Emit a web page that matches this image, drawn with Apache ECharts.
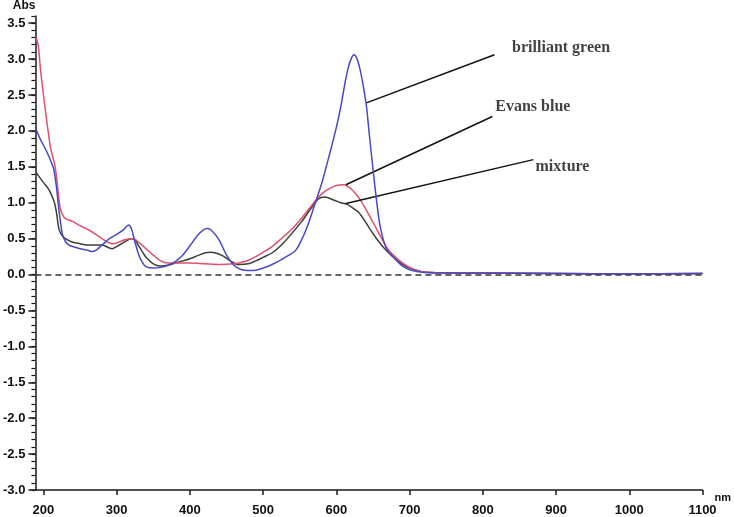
<!DOCTYPE html>
<html>
<head>
<meta charset="utf-8">
<script src="https://cdn.jsdelivr.net/npm/echarts@6/dist/echarts.min.js"></script>
<style>
html,body{margin:0;padding:0;background:#fff;}
#chart{width:734px;height:517px;}
</style>
</head>
<body>
<div id="chart"></div>
<script>
// ---- data ----
const xTicks = [200, 300, 400, 500, 600, 700, 800, 900, 1000, 1100];
const yTicks = [-3.0, -2.5, -2.0, -1.5, -1.0, -0.5, 0.0, 0.5, 1.0, 1.5, 2.0, 2.5, 3.0, 3.5];

const brilliantGreen = [
  [190, 2.02], [195, 1.90], [200, 1.80], [205, 1.70], [210, 1.58], [214, 1.47], [218, 1.20],
  [220, 1.00], [223, 0.75], [226, 0.56], [230, 0.46], [235, 0.41], [240, 0.39], [250, 0.36],
  [260, 0.34], [266, 0.32], [272, 0.34], [280, 0.41], [290, 0.50], [300, 0.56], [310, 0.63],
  [316, 0.69], [320, 0.64], [325, 0.45], [330, 0.28], [335, 0.17], [340, 0.11], [350, 0.09],
  [360, 0.10], [370, 0.13], [380, 0.18], [390, 0.27], [400, 0.40], [410, 0.54], [418, 0.62],
  [424, 0.64], [430, 0.61], [440, 0.48], [450, 0.27], [460, 0.13], [470, 0.07], [480, 0.055],
  [490, 0.06], [500, 0.09], [510, 0.13], [520, 0.18], [530, 0.24], [543, 0.32], [550, 0.43],
  [560, 0.66], [570, 0.96], [580, 1.27], [589, 1.61], [600, 2.05], [607, 2.39], [612, 2.68],
  [616, 2.87], [620, 3.00], [624, 3.06], [628, 3.01], [632, 2.87], [636, 2.67], [641, 2.35],
  [645, 1.95], [650, 1.47], [655, 1.02], [660, 0.66], [668, 0.37], [679, 0.23], [690, 0.12],
  [702, 0.06], [720, 0.03], [750, 0.02], [800, 0.02], [900, 0.015], [1000, 0.01], [1100, 0.015]
];

const evansBlue = [
  [190, 3.30], [193, 3.18], [196, 2.85], [200, 2.50], [205, 2.10], [210, 1.75], [215, 1.55],
  [218, 1.35], [220, 1.15], [223, 0.92], [226, 0.83], [230, 0.78], [240, 0.74], [250, 0.68],
  [262, 0.62], [270, 0.57], [280, 0.50], [290, 0.44], [295, 0.43], [300, 0.44], [310, 0.48],
  [320, 0.50], [325, 0.49], [330, 0.45], [340, 0.36], [350, 0.27], [360, 0.19], [370, 0.16],
  [380, 0.16], [400, 0.16], [420, 0.15], [440, 0.14], [460, 0.15], [471, 0.17], [480, 0.20],
  [490, 0.25], [500, 0.31], [512, 0.39], [525, 0.50], [540, 0.64], [552, 0.78], [563, 0.92],
  [573, 1.05], [581, 1.13], [589, 1.19], [600, 1.24], [610, 1.25], [618, 1.21], [626, 1.13],
  [634, 1.02], [643, 0.86], [652, 0.69], [661, 0.52], [670, 0.36], [679, 0.26], [688, 0.18],
  [700, 0.10], [711, 0.055], [720, 0.035], [750, 0.02], [800, 0.02], [900, 0.015], [1000, 0.01], [1100, 0.015]
];

const mixture = [
  [190, 1.42], [195, 1.35], [200, 1.28], [205, 1.22], [210, 1.13], [215, 1.00], [218, 0.85],
  [221, 0.64], [225, 0.55], [230, 0.50], [240, 0.45], [250, 0.43], [262, 0.41], [270, 0.41],
  [280, 0.41], [290, 0.37], [294, 0.36], [300, 0.39], [310, 0.45], [320, 0.50], [325, 0.48],
  [330, 0.40], [335, 0.32], [340, 0.24], [350, 0.15], [360, 0.12], [370, 0.13], [380, 0.16],
  [390, 0.19], [400, 0.22], [410, 0.26], [420, 0.30], [428, 0.31], [435, 0.30], [445, 0.26],
  [455, 0.19], [466, 0.14], [480, 0.15], [490, 0.19], [500, 0.24], [512, 0.30], [525, 0.41],
  [552, 0.73], [566, 0.93], [575, 1.05], [584, 1.08], [598, 1.03], [606, 1.00], [614, 0.98],
  [622, 0.93], [630, 0.87], [640, 0.73], [648, 0.60], [657, 0.47], [666, 0.36], [677, 0.25],
  [688, 0.16], [700, 0.09], [711, 0.055], [720, 0.035], [750, 0.02], [800, 0.02], [900, 0.015], [1000, 0.01], [1100, 0.015]
];

// annotation callouts: label text, line start (on curve), line end, text anchor (data units)
const annoNames = ['brilliant green', 'Evans blue', 'mixture'];
const annoFrom = [[641, 2.39], [613, 1.25], [613, 0.99]];
const annoTo = [[816, 3.06], [813, 2.20], [869, 1.60]];
const annoText = [[840, 3.15], [817, 2.34], [872, 1.50]];

// ---- chart ----
const chart = echarts.init(document.getElementById('chart'), null, {renderer: 'canvas'});
const axisColor = '#1a1a1a';
const tickFont = {fontFamily: 'Liberation Sans, Arial, sans-serif', fontWeight: 'bold', fontSize: 13, color: '#111'};

const option = {
  animation: false,
  backgroundColor: '#fff',
  grid: {left: 33, right: 31, top: 16, bottom: 24, containLabel: false},
  xAxis: {
    type: 'value', min: 189, max: 1100,
    name: 'nm', nameLocation: 'end', nameGap: 12,
    nameTextStyle: {fontFamily: 'Liberation Sans, Arial, sans-serif', fontWeight: 'bold', fontSize: 11, color: '#111', verticalAlign: 'top', padding: [2, 0, 0, 0]},
    axisLine: {show: true, onZero: false, lineStyle: {color: axisColor, width: 1.5}},
    axisTick: {show: true, inside: false, length: 5, customValues: xTicks, lineStyle: {color: axisColor, width: 1.5}},
    axisLabel: Object.assign({show: true, margin: 14, customValues: xTicks, formatter: v => String(v)}, tickFont),
    splitLine: {show: false}
  },
  yAxis: [{
    type: 'value', min: -3, max: 3.6,
    name: 'Abs', nameLocation: 'end', nameGap: 4,
    nameTextStyle: {fontFamily: 'Liberation Sans, Arial, sans-serif', fontWeight: 'bold', fontSize: 12, color: '#111', align: 'right', verticalAlign: 'bottom'},
    axisLine: {show: true, onZero: false, lineStyle: {color: axisColor, width: 1.5}},
    axisTick: {show: true, inside: false, length: 7, customValues: yTicks, lineStyle: {color: axisColor, width: 1.5}},
    axisLabel: Object.assign({show: true, margin: 10, customValues: yTicks, formatter: v => Number(v).toFixed(1)}, tickFont),
    splitLine: {show: false}
  }, {
    type: 'value', min: -3, max: 3.6, interval: 0.1, position: 'left', offset: 0,
    axisLine: {show: false},
    axisTick: {show: true, inside: false, length: 4, lineStyle: {color: axisColor, width: 1.2}},
    axisLabel: {show: false},
    splitLine: {show: false}
  }],
  series: [
    {
      name: 'mixture', type: 'line', data: mixture, smooth: 0.3, showSymbol: false,
      lineStyle: {color: '#3b4036', width: 1.5}, z: 3,
      markLine: {
        silent: true, symbol: ['none', 'none'], label: {show: false},
        lineStyle: {type: [6, 4], color: '#333', width: 1.5},
        data: [{yAxis: 0}]
      }
    },
    {
      name: 'Evans blue', type: 'line', data: evansBlue, smooth: 0.3, showSymbol: false,
      lineStyle: {color: '#e0506e', width: 1.5}, z: 4
    },
    {
      name: 'brilliant green', type: 'line', data: brilliantGreen, smooth: 0.3, showSymbol: false,
      lineStyle: {color: '#4848c8', width: 1.5}, z: 5
    },
    {
      name: 'labels', type: 'scatter', symbolSize: 0, z: 10,
      data: annoNames.map((n, i) => [annoText[i][0], annoText[i][1], n]),
      label: {
        show: true, position: 'right', distance: 0,
        formatter: p => p.data[2],
        fontFamily: 'Liberation Serif, Times New Roman, serif', fontWeight: 'bold', fontSize: 16, color: '#111'
      },
      markLine: {
        silent: true, symbol: ['none', 'none'], label: {show: false},
        lineStyle: {type: 'solid', color: '#111', width: 1.5},
        data: annoNames.map((n, i) => [{coord: annoFrom[i]}, {coord: annoTo[i]}])
      }
    }
  ]
};
chart.setOption(option);
</script>
</body>
</html>
